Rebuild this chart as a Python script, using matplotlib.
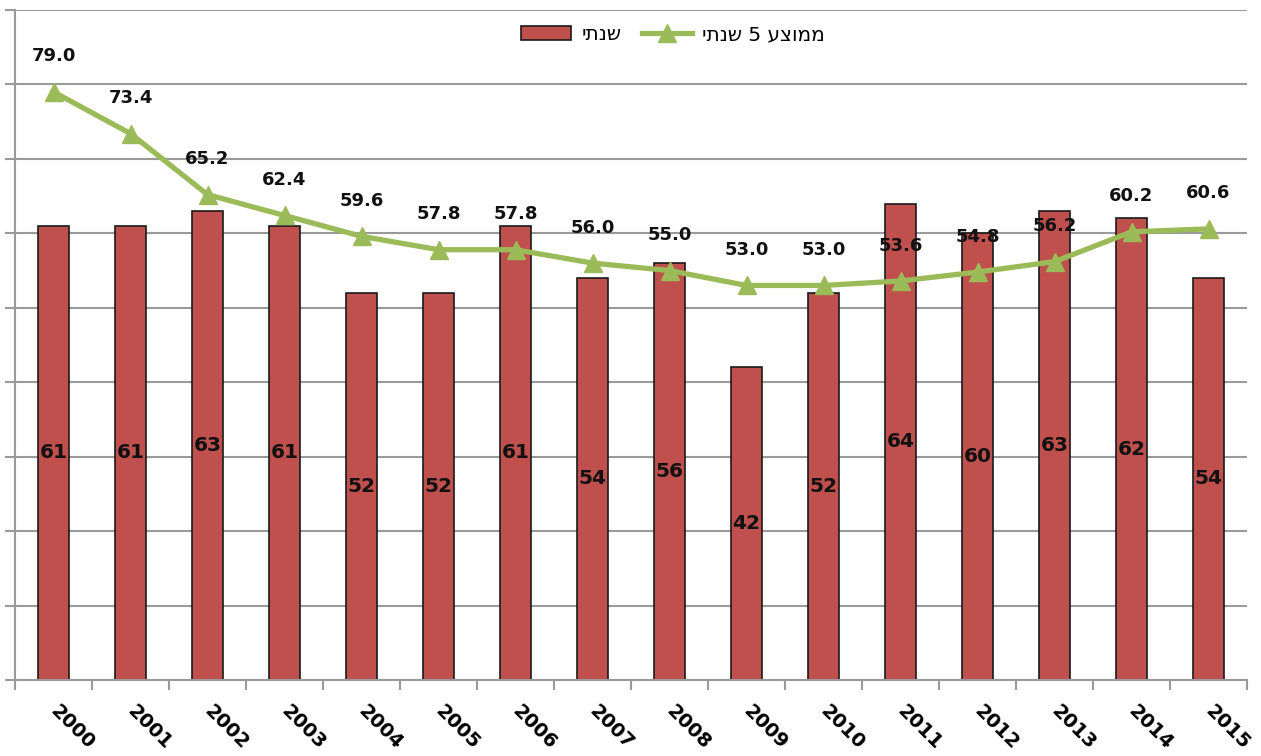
import matplotlib
matplotlib.use("Agg")
import matplotlib.pyplot as plt
import numpy as np
from matplotlib.ticker import MultipleLocator, FixedLocator

years = ["2000", "2001", "2002", "2003", "2004", "2005", "2006", "2007",
         "2008", "2009", "2010", "2011", "2012", "2013", "2014", "2015"]
annual = [61, 61, 63, 61, 52, 52, 61, 54, 56, 42, 52, 64, 60, 63, 62, 54]
avg5 = [79.0, 73.4, 65.2, 62.4, 59.6, 57.8, 57.8, 56.0, 55.0, 53.0, 53.0,
        53.6, 54.8, 56.2, 60.2, 60.6]
label_annual = "שנתי"
label_avg = "ממוצע 5 שנתי"


def vis(s):
    # matplotlib has no bidi support: reverse Hebrew for visual order
    return s[::-1]


plt.rcParams['font.family'] = ['DejaVu Sans']

fig = plt.figure(figsize=(12.61, 7.56), dpi=100)
ax = fig.add_axes([15 / 1261, 1 - 680 / 756, 1232 / 1261, 670 / 756])

x = np.arange(len(years))
bar_color = "#C0504D"
line_color = "#9BBB59"

bars = ax.bar(x, annual, width=0.4, color=bar_color, edgecolor="#1a1a1a",
              linewidth=1.2, zorder=2, label=vis(label_annual))
line, = ax.plot(x, avg5, color=line_color, linewidth=3.8, marker="^",
                markersize=13, zorder=3, label=vis(label_avg))

for xi, v in zip(x, annual):
    ax.text(xi, v / 2, f"{v}", ha="center", va="center", fontsize=14.5,
            fontweight="bold", color="#111111", zorder=4)
for xi, v in zip(x, avg5):
    ax.annotate(f"{v:.1f}", (xi, v), xytext=(0, 19), textcoords="offset points",
                ha="center", va="bottom", fontsize=13, fontweight="bold",
                color="#111111", zorder=5)

ax.set_xlim(-0.5, len(years) - 0.5)
ax.set_ylim(0, 90)
ax.yaxis.set_major_locator(MultipleLocator(10))
ax.yaxis.grid(True, color="#9a9a9a", linewidth=1.5, zorder=0)
ax.set_axisbelow(True)
ax.tick_params(axis="y", labelleft=False, length=7, width=1.5, color="#9a9a9a", direction="out")

ax.set_xticks(x)
ax.xaxis.set_minor_locator(FixedLocator(np.arange(-0.5, len(years), 1.0)))
ax.set_xticklabels(years, rotation=-45, ha="left", va="center",
                   rotation_mode="anchor", fontsize=14, fontweight="bold")
ax.tick_params(axis="x", which="major", length=0, pad=20)
ax.tick_params(axis="x", which="minor", length=7, width=1.5, color="#9a9a9a")

for side in ["top", "right"]:
    ax.spines[side].set_visible(False)
for side in ["left", "bottom"]:
    ax.spines[side].set_color("#9a9a9a")
    ax.spines[side].set_linewidth(1.5)

leg = ax.legend([bars, line], [vis(label_annual), vis(label_avg)],
                loc="center", bbox_to_anchor=(0.534, 0.963), ncol=2,
                frameon=False, fontsize=14.5, handlelength=2.5,
                columnspacing=1.0, handletextpad=0.5)

fig.savefig("out.png", dpi=100)
